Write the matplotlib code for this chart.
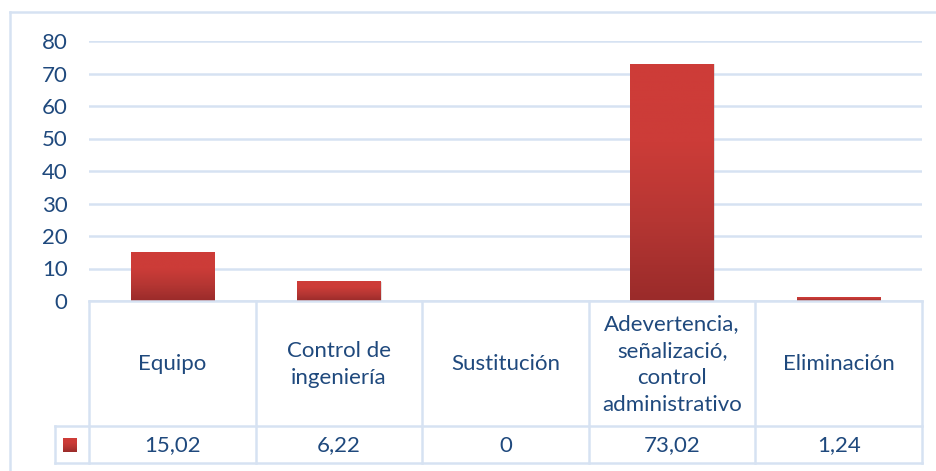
import numpy as np
import matplotlib
matplotlib.use("Agg")
import matplotlib.pyplot as plt
from matplotlib.lines import Line2D
from matplotlib.colors import LinearSegmentedColormap
from matplotlib.patches import Rectangle

categories = ["Equipo", "Control de\ningeniería", "Sustitución",
              "Adevertencia,\nseñalizació,\ncontrol\nadministrativo", "Eliminación"]
values = [15.02, 6.22, 0, 73.02, 1.24]
value_labels = ["15,02", "6,22", "0", "73,02", "1,24"]
yticks = [0, 10, 20, 30, 40, 50, 60, 70, 80]

W, H = 937, 471
TXT = "#1F497D"
GRID = "#D6E2F2"
FONT = "Lato"
FS = 16

fig = plt.figure(figsize=(W / 100, H / 100), dpi=100)
fig.patch.set_facecolor("white")

def fx(px):
    return px / W

def fy(py):
    return 1 - py / H

left_px, right_px, top_px, bot_px = 89, 922, 41, 301
ax = fig.add_axes([fx(left_px), fy(bot_px), fx(right_px - left_px), (bot_px - top_px) / H])
ax.set_xlim(-0.5, len(categories) - 0.5)
ax.set_ylim(0, 80)
ax.set_yticks(yticks)
ax.set_yticklabels([str(t) for t in yticks], fontfamily=FONT, fontsize=FS, color=TXT)
ax.tick_params(axis="y", length=0, pad=15.5)
ax.set_xticks([])
for s in ax.spines.values():
    s.set_visible(False)
ax.grid(axis="y", color=GRID, linewidth=1.8)
ax.set_axisbelow(True)

cmap = LinearSegmentedColormap.from_list("bar", ["#9A2B2A", "#B53633", "#CC3C38", "#CE3C38"])
grad = np.linspace(0, 1, 256).reshape(-1, 1)

x = np.arange(len(categories))
bars = ax.bar(x, values, width=0.5, color="#C0392F", zorder=3, linewidth=0)
for b in bars:
    bx, by, bw, bh = b.get_x(), b.get_y(), b.get_width(), b.get_height()
    if bh <= 0:
        continue
    sh = Rectangle((bx + 0.006, by - 0.25), bw, bh, facecolor="#888888", alpha=0.25,
                   linewidth=0, zorder=2)
    ax.add_patch(sh)
    im = ax.imshow(grad, extent=(bx, bx + bw, by, by + bh), origin="lower",
                   cmap=cmap, aspect="auto", zorder=4)
    im.set_clip_path(b)
ax.set_xlim(-0.5, len(categories) - 0.5)
ax.set_ylim(0, 80)

# outer chart border
fig.add_artist(Line2D([fx(10), 1], [fy(12), fy(12)], color=GRID, linewidth=1.8))
fig.add_artist(Line2D([fx(10), fx(10)], [fy(12), 0], color=GRID, linewidth=1.8))

# data table
hdr_top, hdr_bot, row_bot = 301, 426, 463
key_left = 55
to_fig = lambda xd: fig.transFigure.inverted().transform(ax.transData.transform((xd, 0)))[0]
bounds = [to_fig(i - 0.5) for i in range(len(categories) + 1)]

def hline(x0, x1, py):
    fig.add_artist(Line2D([x0, x1], [fy(py), fy(py)], color=GRID, linewidth=1.8))

def vline(xf, y0, y1):
    fig.add_artist(Line2D([xf, xf], [fy(y0), fy(y1)], color=GRID, linewidth=1.8))

hline(bounds[0], bounds[-1], hdr_top)
hline(fx(key_left), bounds[-1], hdr_bot)
hline(fx(key_left), bounds[-1], row_bot)
vline(fx(key_left), hdr_bot, row_bot)
for b in bounds:
    vline(b, hdr_top, row_bot)

for i, (cat, lab) in enumerate(zip(categories, value_labels)):
    cx = (bounds[i] + bounds[i + 1]) / 2
    fig.text(cx, fy((hdr_top + hdr_bot) / 2 + 1), cat, ha="center", va="center",
             fontfamily=FONT, fontsize=FS, color=TXT, linespacing=1.42, multialignment="center")
    fig.text(cx, fy((hdr_bot + row_bot) / 2 + 1), lab, ha="center", va="center",
             fontfamily=FONT, fontsize=FS, color=TXT)

# legend key in table
kax = fig.add_axes([fx(63), fy(452), fx(14), 14 / H])
kax.imshow(grad, cmap=cmap, origin="lower", aspect="auto", extent=(0, 1, 0, 1))
kax.set_axis_off()

fig.savefig("out.png", dpi=100, facecolor="white")
